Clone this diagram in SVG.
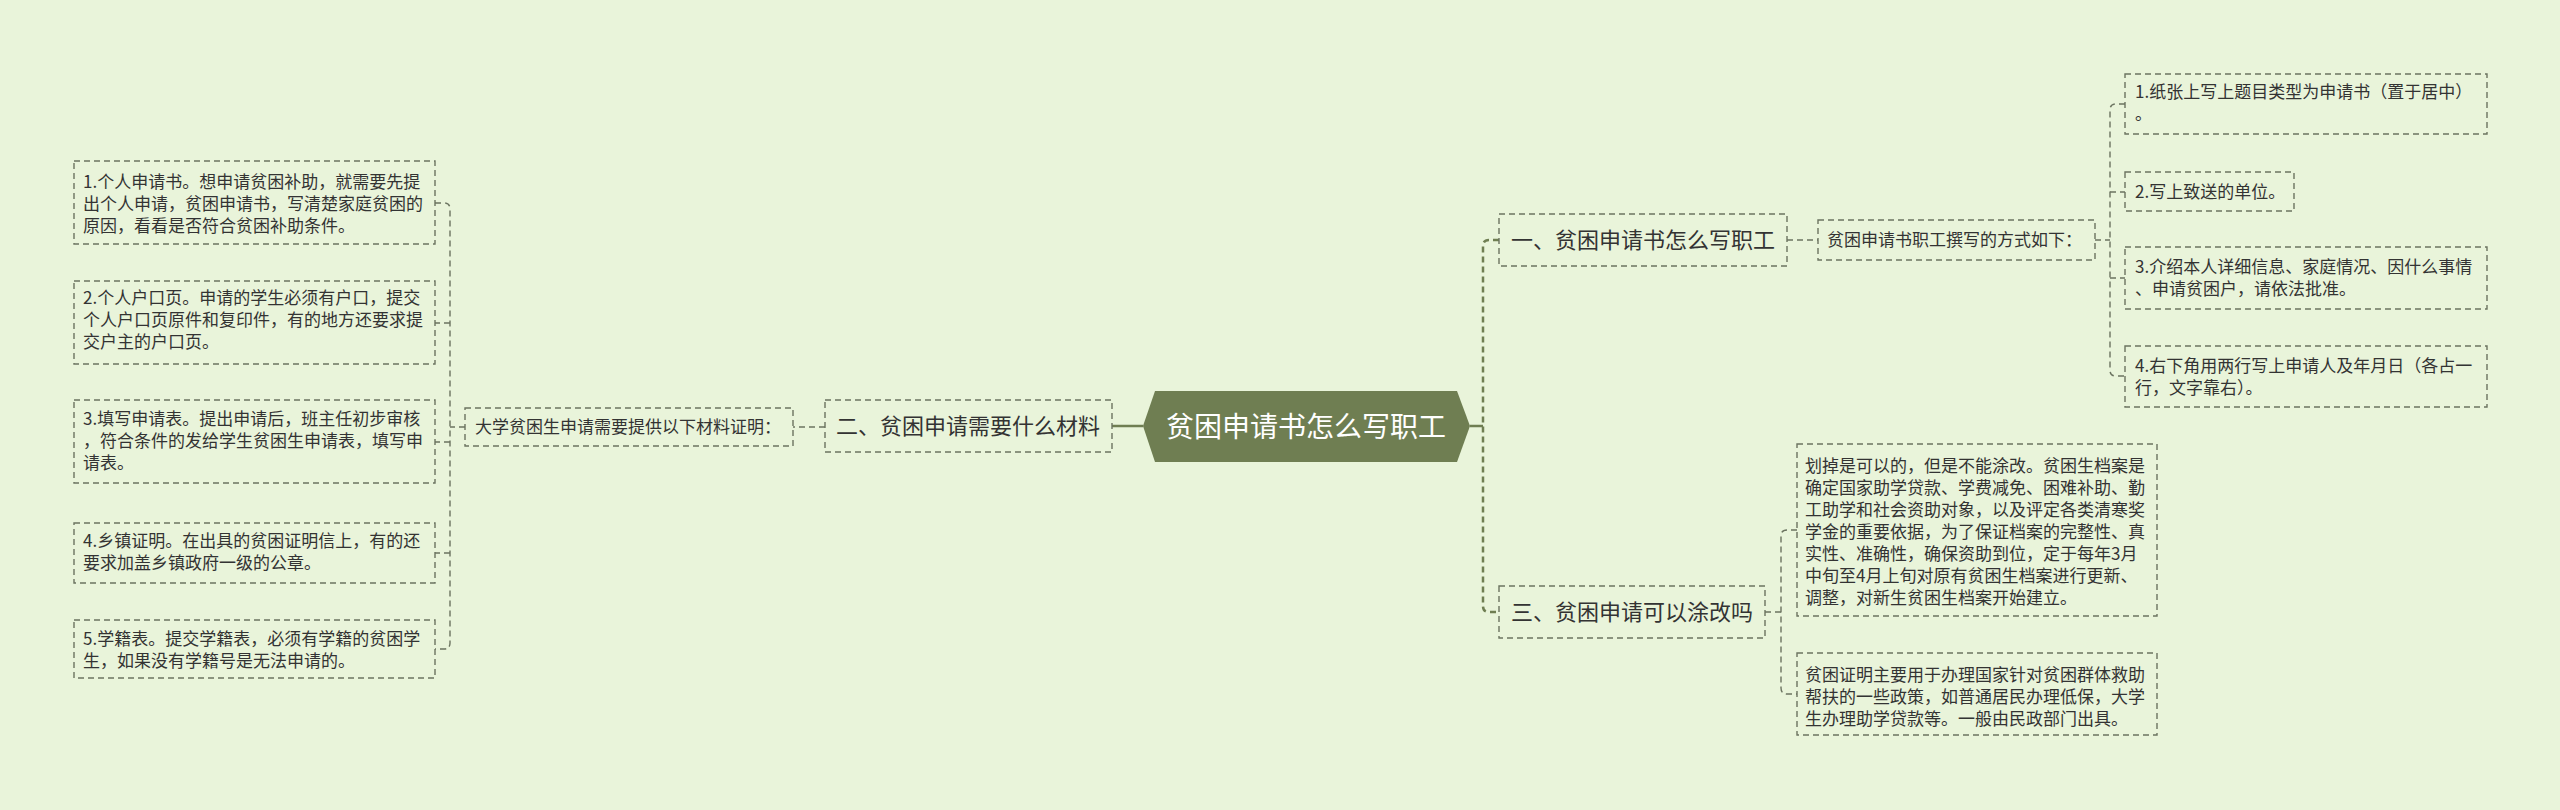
<svg xmlns="http://www.w3.org/2000/svg" width="2560" height="810" viewBox="0 0 2560 810">
<style>
.bx{fill:none;stroke:#6b7360;stroke-width:1.4;stroke-dasharray:6 4}
.t{font-family:"Noto Sans CJK SC","Liberation Sans",sans-serif;fill:#333;font-size:17px}
.t2{font-family:"Noto Sans CJK SC","Liberation Sans",sans-serif;fill:#333;font-size:22px}
.c{fill:none;stroke:#6b7360;stroke-width:1.4;stroke-dasharray:6 4}
.m{fill:none;stroke:#6f7e52;stroke-width:2.5;stroke-dasharray:6 4}
.s{fill:none;stroke:#6f7e52;stroke-width:2.5}
</style>
<rect width="2560" height="810" fill="#e9f4da"/>
<g id="connectors">
<path class="s" d="M1143 426 H1112"/>
<path class="s" d="M1470 426 H1483"/>
<path class="m" d="M1499 240 H1489 Q1483 240 1483 246 V606 Q1483 612 1489 612 H1499"/>
<path class="c" d="M1787 240 H1818"/>
<path class="c" d="M2095 240 H2110"/>
<path class="c" d="M2125 104 H2116 Q2110 104 2110 110 V370 Q2110 376 2116 376 H2125"/>
<path class="c" d="M2110 192 H2125 M2110 278 H2125"/>
<path class="c" d="M1765 612 H1781"/>
<path class="c" d="M1797 530 H1787 Q1781 530 1781 536 V688 Q1781 694 1787 694 H1797"/>
<path class="c" d="M825 427 H793"/>
<path class="c" d="M465 427 H450"/>
<path class="c" d="M435 203 H444 Q450 203 450 209 V643 Q450 649 444 649 H435"/>
<path class="c" d="M450 323 H435 M450 442 H435 M450 553 H435"/>
</g>
<g id="center">
<polygon points="1143,426 1155,391 1457,391 1470,426 1457,462 1155,462" fill="#6f7e52"/>
<text x="1306" y="437" text-anchor="middle" font-family="Noto Sans CJK SC, Liberation Sans, sans-serif" font-size="28" fill="#fff">贫困申请书怎么写职工</text>
</g>
<g id="n1">
<rect class="bx" x="1499" y="214" width="288" height="52"/>
<text class="t2" x="1511" y="248">一、贫困申请书怎么写职工</text>
</g>
<g id="n1a">
<rect class="bx" x="1818" y="220" width="277" height="40"/>
<text class="t" x="1827" y="246">贫困申请书职工撰写的方式如下：</text>
</g>
<g id="r1">
<rect class="bx" x="2125" y="74" width="362" height="60"/>
<text class="t" x="2135" y="98">1.纸张上写上题目类型为申请书（置于居中）</text>
<text class="t" x="2135" y="120">。</text>
</g>
<g id="r2">
<rect class="bx" x="2125" y="172" width="169" height="39"/>
<text class="t" x="2135" y="198">2.写上致送的单位。</text>
</g>
<g id="r3">
<rect class="bx" x="2125" y="247" width="362" height="62"/>
<text class="t" x="2135" y="273">3.介绍本人详细信息、家庭情况、因什么事情</text>
<text class="t" x="2135" y="295">、申请贫困户，请依法批准。</text>
</g>
<g id="r4">
<rect class="bx" x="2125" y="346" width="362" height="61"/>
<text class="t" x="2135" y="372">4.右下角用两行写上申请人及年月日（各占一</text>
<text class="t" x="2135" y="394">行，文字靠右）。</text>
</g>
<g id="n3">
<rect class="bx" x="1499" y="586" width="266" height="52"/>
<text class="t2" x="1511" y="620">三、贫困申请可以涂改吗</text>
</g>
<g id="n3a">
<rect class="bx" x="1797" y="444" width="360" height="172"/>
<text class="t" x="1805" y="472">划掉是可以的，但是不能涂改。贫困生档案是</text>
<text class="t" x="1805" y="494">确定国家助学贷款、学费减免、困难补助、勤</text>
<text class="t" x="1805" y="516">工助学和社会资助对象，以及评定各类清寒奖</text>
<text class="t" x="1805" y="538">学金的重要依据，为了保证档案的完整性、真</text>
<text class="t" x="1805" y="560">实性、准确性，确保资助到位，定于每年3月</text>
<text class="t" x="1805" y="582">中旬至4月上旬对原有贫困生档案进行更新、</text>
<text class="t" x="1805" y="604">调整，对新生贫困生档案开始建立。</text>
</g>
<g id="n3b">
<rect class="bx" x="1797" y="653" width="360" height="82"/>
<text class="t" x="1805" y="681">贫困证明主要用于办理国家针对贫困群体救助</text>
<text class="t" x="1805" y="703">帮扶的一些政策，如普通居民办理低保，大学</text>
<text class="t" x="1805" y="725">生办理助学贷款等。一般由民政部门出具。</text>
</g>
<g id="n2">
<rect class="bx" x="825" y="400" width="287" height="52"/>
<text class="t2" x="836" y="434">二、贫困申请需要什么材料</text>
</g>
<g id="n2a">
<rect class="bx" x="465" y="408" width="328" height="38"/>
<text class="t" x="475" y="433">大学贫困生申请需要提供以下材料证明：</text>
</g>
<g id="l1">
<rect class="bx" x="74" y="161" width="361" height="83"/>
<text class="t" x="83" y="188">1.个人申请书。想申请贫困补助，就需要先提</text>
<text class="t" x="83" y="210">出个人申请，贫困申请书，写清楚家庭贫困的</text>
<text class="t" x="83" y="232">原因，看看是否符合贫困补助条件。</text>
</g>
<g id="l2">
<rect class="bx" x="74" y="281" width="361" height="83"/>
<text class="t" x="83" y="304">2.个人户口页。申请的学生必须有户口，提交</text>
<text class="t" x="83" y="326">个人户口页原件和复印件，有的地方还要求提</text>
<text class="t" x="83" y="348">交户主的户口页。</text>
</g>
<g id="l3">
<rect class="bx" x="74" y="400" width="361" height="83"/>
<text class="t" x="83" y="425">3.填写申请表。提出申请后，班主任初步审核</text>
<text class="t" x="83" y="447">，符合条件的发给学生贫困生申请表，填写申</text>
<text class="t" x="83" y="469">请表。</text>
</g>
<g id="l4">
<rect class="bx" x="74" y="523" width="361" height="60"/>
<text class="t" x="83" y="547">4.乡镇证明。在出具的贫困证明信上，有的还</text>
<text class="t" x="83" y="569">要求加盖乡镇政府一级的公章。</text>
</g>
<g id="l5">
<rect class="bx" x="74" y="620" width="361" height="58"/>
<text class="t" x="83" y="645">5.学籍表。提交学籍表，必须有学籍的贫困学</text>
<text class="t" x="83" y="667">生，如果没有学籍号是无法申请的。</text>
</g>
</svg>
